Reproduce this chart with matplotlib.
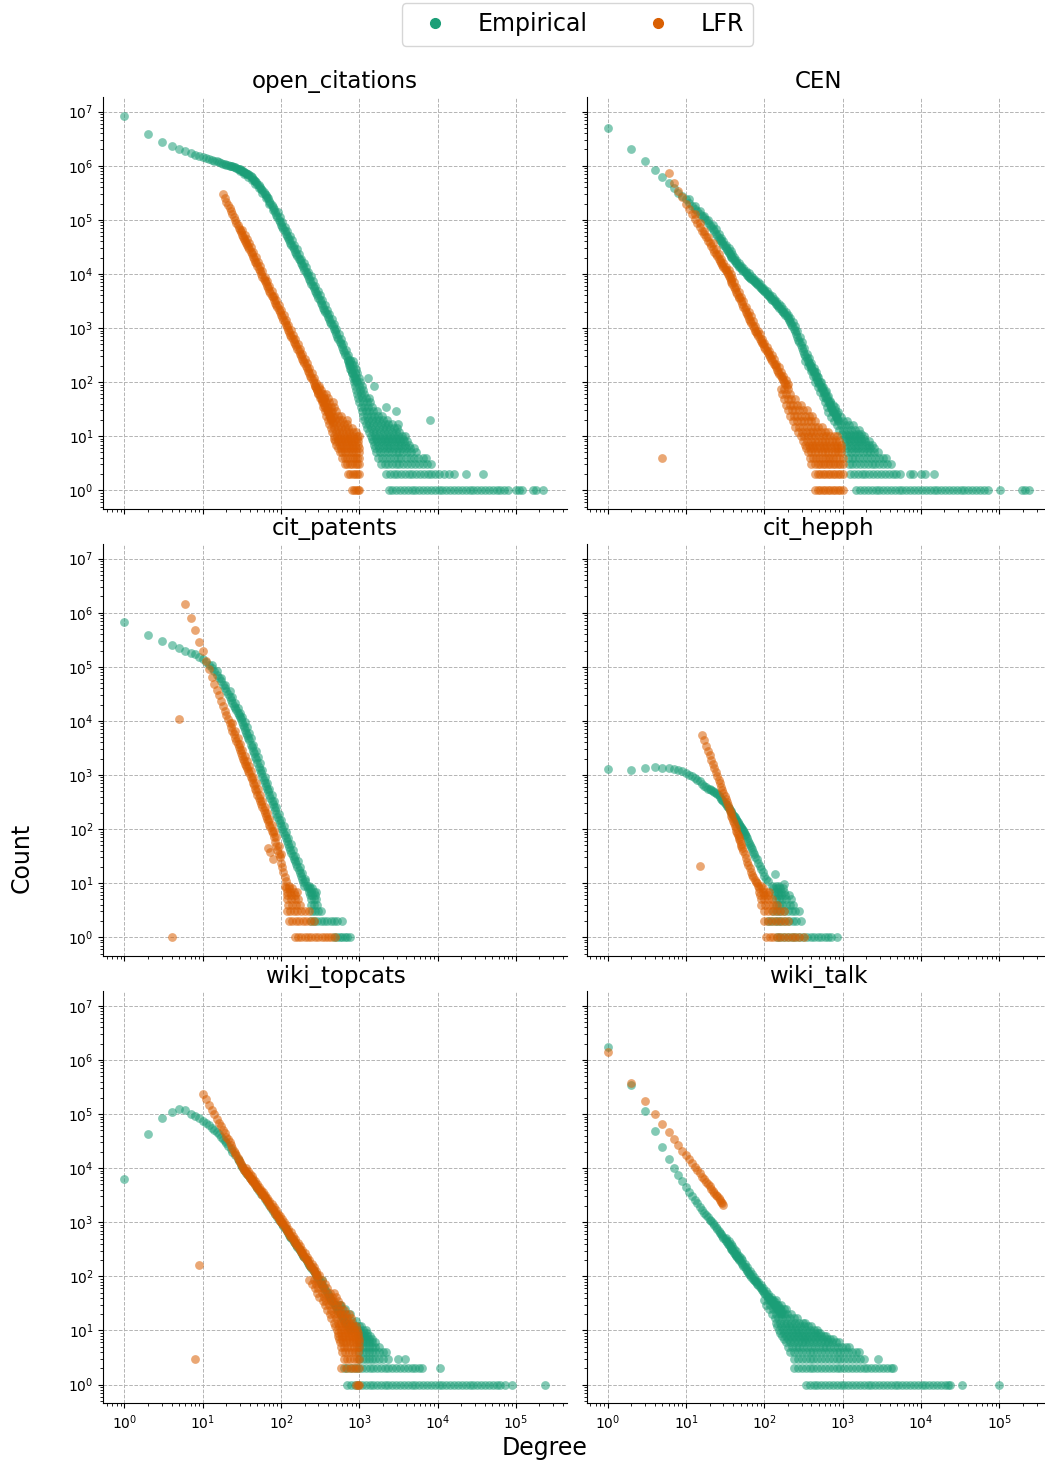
import numpy as np
import matplotlib
matplotlib.use("Agg")
import matplotlib.pyplot as plt
from matplotlib.lines import Line2D
from matplotlib.ticker import LogLocator, NullFormatter

# ------------------------------------------------------------------
# Degree distributions: (degree, count) readings along each curve, readings
# along the far edge of the thick bands, and integer-count rows
# {count: [degrees]} for the noisy tails.
# ------------------------------------------------------------------

# open_citations
oc_emp = [(1, 8.5e6), (2, 3.9e6), (3, 2.8e6), (4, 2.35e6), (5, 2.05e6), (6, 1.87e6), (7, 1.73e6),
          (8, 1.6e6), (9, 1.52e6), (10, 1.44e6), (11, 1.38e6), (12, 1.33e6), (13, 1.28e6),
          (14, 1.24e6), (15, 1.2e6), (16, 1.16e6), (17, 1.13e6), (18, 1.1e6), (19, 1.08e6),
          (20, 1.05e6), (21, 1.03e6), (22, 1.01e6), (23, 9.9e5), (24, 9.7e5), (25, 9.5e5),
          (26, 9.3e5), (27, 9.1e5), (28, 8.9e5), (29, 8.75e5), (30, 8.6e5), (31, 8.35e5),
          (32, 8.1e5), (33, 7.9e5), (34, 7.7e5), (35, 7.5e5), (36, 7.3e5), (37, 7.1e5),
          (38, 6.9e5), (39, 6.8e5), (41, 6.4e5), (42, 6.1e5), (44, 5.7e5), (45, 5.5e5),
          (47, 5.2e5), (48, 5.0e5), (50, 4.7e5), (52, 4.35e5), (54, 4.05e5), (56, 3.77e5),
          (58, 3.52e5), (60, 3.28e5), (62, 3.06e5), (64, 2.86e5), (66, 2.67e5), (68, 2.5e5),
          (71, 2.25e5), (73, 2.09e5), (76, 1.88e5), (78, 1.76e5), (81, 1.59e5), (84, 1.4e5),
          (87, 1.24e5), (90, 1.11e5), (93, 1.0e5), (96, 9.1e4), (100, 8.15e4), (103, 7.5e4),
          (107, 6.8e4), (111, 6.1e4), (115, 5.5e4), (119, 5.0e4), (123, 4.6e4), (127, 4.2e4),
          (132, 3.75e4), (136, 3.45e4), (141, 3.15e4), (146, 2.85e4), (151, 2.6e4),
          (156, 2.37e4), (162, 2.12e4), (168, 1.93e4), (173, 1.78e4), (180, 1.6e4),
          (186, 1.45e4), (192, 1.33e4), (199, 1.2e4), (206, 1.09e4), (213, 1.0e4), (221, 9.0e3),
          (229, 8.05e3), (237, 7.3e3), (245, 6.6e3), (253, 6.0e3), (262, 5.4e3), (272, 4.85e3),
          (281, 4.4e3), (291, 4.0e3), (301, 3.6e3), (312, 3.25e3), (323, 2.93e3), (334, 2.65e3),
          (346, 2.39e3), (358, 2.16e3), (370, 1.97e3), (383, 1.78e3), (397, 1.6e3),
          (411, 1.44e3), (425, 1.31e3), (440, 1.19e3), (455, 1.07e3), (471, 964), (488, 863),
          (505, 773), (523, 687), (541, 620), (560, 555), (580, 497), (600, 445), (621, 398),
          (643, 356), (665, 319), (689, 286), (713, 256), (738, 225), (764, 195), (790, 170),
          (818, 150), (847, 130), (876, 117), (907, 105)]
oc_emp_edge = [(30, 7.9e5), (34, 7.0e5), (38, 6.2e5), (42, 5.5e5), (47, 4.6e5), (52, 3.85e5),
               (58, 3.1e5), (64, 2.5e5), (71, 1.95e5), (78, 1.52e5), (91, 1.4e5), (97, 1.11e5),
               (104, 9.1e4), (111, 7.5e4), (120, 6.1e4), (129, 5.0e4), (137, 4.2e4),
               (147, 3.45e4), (158, 2.85e4), (168, 2.37e4), (181, 1.93e4), (194, 1.6e4),
               (207, 1.33e4), (222, 1.09e4), (239, 9.0e3), (256, 7.3e3), (273, 6.0e3),
               (294, 4.85e3), (314, 4.0e3), (337, 3.25e3), (361, 2.65e3), (387, 2.16e3),
               (414, 1.78e3), (444, 1.44e3), (475, 1.19e3), (509, 964), (545, 773), (584, 620),
               (626, 497), (671, 398), (718, 319), (770, 256)]
oc_emp_rows = {
    250: [710, 770, 830],
    210: [740, 800, 860],
    175: [770, 840, 900],
    145: [800, 870, 940],
    120: [830, 910, 990, 1280],
    100: [860, 940, 1030],
    85: [890, 980, 1080, 1550],
    72: [910, 1010, 1120],
    60: [940, 1040, 1160],
    50: [970, 1080, 1200, 1330],
    42: [1000, 1110, 1240, 1380],
    35: [1040, 1160, 1290, 1440, 2200],
    29: [1080, 1200, 1340, 1500, 1680, 2930],
    24: [1120, 1250, 1400, 1560, 1750, 1950],
    20: [1160, 1300, 1450, 1620, 1810, 2030, 2270, 8000],
    17: [1200, 1340, 1500, 1680, 1880, 2100, 2350, 2620, 3100],
    14: [1260, 1410, 1580, 1770, 1980, 2220, 2480, 2780, 3050],
    12: [1320, 1480, 1650, 1850, 2080, 2330, 2600, 2900, 3250],
    10: [1410, 1580, 1770, 2000, 2250, 2500, 2800, 3150, 3500, 3850],
    9: [1450, 1620, 1820, 2050, 2300, 2600, 2900, 3250, 3650],
    8: [1500, 1680, 1880, 2100, 2350, 2650, 2950, 3300, 3700, 4100],
    7: [1550, 1740, 1950, 2200, 2450, 2750, 3100, 3450, 3850, 4300],
    6: [1600, 1800, 2000, 2250, 2500, 2800, 3150, 3550, 4000, 4500, 5000],
    5: [1650, 1850, 2050, 2300, 2600, 2900, 3250, 3650, 4100, 4600, 5300],
    4: [1750, 1950, 2200, 2450, 2750, 3100, 3450, 3900, 4400, 5000, 5600, 6500, 7100],
    3: [1900, 2100, 2350, 2600, 2900, 3250, 3650, 4100, 4600, 5150, 5800, 6500, 7300, 8200],
    2: [2200, 2450, 2750, 3050, 3400, 3800, 4250, 4750, 5300, 5950, 6650, 7450, 8300, 9300,
        10400, 12000, 14000, 16000, 23000, 38500],
    1: [2400, 2650, 2950, 3300, 3700, 4150, 4650, 5200, 5800, 6500, 7300, 8200, 9200, 10300,
        11500, 12900, 14500, 16200, 18200, 20400, 22800, 25600, 28700, 32100, 36000, 40300,
        45200, 50600, 56700, 63500, 71000, 80000, 100000, 110000, 120000, 163000, 180000,
        220000],
}
oc_lfr = [(18, 3.0e5), (19, 2.54e5), (20, 2.18e5), (21, 1.89e5), (22, 1.64e5), (23, 1.43e5),
          (24, 1.26e5), (25, 1.12e5), (26, 9.9e4), (27, 8.9e4), (28, 8.0e4), (29, 7.2e4),
          (30, 6.5e4), (31, 5.9e4), (32, 5.3e4), (33, 4.84e4), (34, 4.46e4), (35, 4.07e4),
          (36, 3.75e4), (37, 3.45e4), (38, 3.18e4), (39, 2.94e4), (41, 2.53e4), (42, 2.36e4),
          (44, 2.06e4), (45, 1.92e4), (47, 1.68e4), (48, 1.58e4), (50, 1.4e4), (52, 1.24e4),
          (54, 1.11e4), (56, 9.95e3), (58, 8.97e3), (60, 8.1e3), (62, 7.35e3), (64, 6.67e3),
          (66, 6.05e3), (68, 5.53e3), (71, 4.89e3), (73, 4.5e3), (76, 3.97e3), (78, 3.68e3),
          (81, 3.3e3), (84, 2.95e3), (87, 2.64e3), (90, 2.4e3), (93, 2.18e3), (96, 1.98e3),
          (100, 1.75e3), (103, 1.6e3), (107, 1.43e3), (111, 1.28e3), (115, 1.15e3),
          (119, 1.03e3), (123, 938), (127, 851), (132, 757), (136, 692), (141, 624), (146, 562),
          (151, 507), (156, 460), (162, 409), (168, 369), (173, 337), (180, 300), (186, 270),
          (192, 247), (199, 221), (206, 200), (213, 181), (221, 162), (229, 145), (237, 131),
          (245, 119), (253, 108), (262, 97), (272, 86), (281, 78.5), (291, 70.8), (301, 63.8),
          (312, 57.5), (323, 51.9), (334, 46.8), (346, 42.2), (358, 38), (370, 34.5),
          (383, 31.1), (397, 27.9), (411, 25.1), (425, 22.8), (440, 20.6), (455, 18.5)]
oc_lfr_edge = [(32, 6.5e4), (35, 5.3e4), (37, 4.46e4), (39, 3.75e4), (41, 3.18e4), (44, 2.53e4),
               (48, 2.06e4), (51, 1.68e4), (54, 1.4e4), (58, 1.11e4), (63, 8.97e3), (67, 7.35e3),
               (71, 6.05e3), (77, 4.89e3), (82, 3.97e3), (87, 3.3e3), (94, 2.64e3),
               (100, 2.18e3), (108, 1.75e3), (116, 1.43e3), (124, 1.15e3), (133, 938),
               (143, 757), (152, 624), (163, 507), (175, 409), (187, 337), (201, 270),
               (215, 221), (230, 181), (247, 145), (265, 119), (283, 97), (303, 78.5),
               (325, 63.8), (349, 51.9), (374, 42.2), (400, 34.5), (429, 27.9), (459, 22.8)]
oc_lfr_rows = {
    86: [275, 310],
    72: [290, 325],
    60: [300, 340, 380],
    50: [315, 355, 400],
    42: [330, 370, 410, 460],
    35: [345, 385, 430, 480],
    29: [360, 400, 450, 510],
    24: [380, 420, 470, 530, 590],
    20: [395, 440, 490, 550, 610, 690],
    17: [410, 460, 510, 570, 630, 700],
    14: [430, 480, 530, 590, 650, 720, 800],
    12: [450, 500, 550, 610, 670, 740, 820, 900],
    10: [470, 520, 570, 630, 690, 760, 840, 930, 1000],
    9: [480, 530, 580, 640, 700, 770, 850, 940],
    8: [490, 540, 590, 650, 710, 780, 860, 950],
    7: [510, 560, 610, 670, 730, 800, 880, 960],
    6: [530, 580, 630, 690, 750, 820, 900, 1000],
    5: [560, 610, 660, 720, 780, 840, 910, 1000],
    4: [600, 650, 700, 760, 820, 880, 940, 1000],
    3: [650, 700, 750, 810, 870, 930, 1000],
    2: [720, 770, 820, 880, 940, 1000],
    1: [800, 850, 900, 950, 1000],
}

# CEN
cen_emp = [(1, 4.9e6), (2, 2.05e6), (3, 1.2e6), (4, 8.3e5), (5, 6.2e5), (6, 4.8e5), (7, 3.9e5),
           (8, 3.2e5), (9, 2.75e5), (10, 2.4e5), (11, 2.08e5), (12, 1.82e5), (13, 1.61e5),
           (14, 1.44e5), (15, 1.3e5), (16, 1.18e5), (17, 1.08e5), (18, 9.75e4), (19, 8.8e4),
           (20, 8.1e4), (21, 7.4e4), (22, 6.7e4), (23, 6.1e4), (24, 5.55e4), (25, 5.1e4),
           (26, 4.7e4), (27, 4.3e4), (28, 4.0e4), (29, 3.7e4), (30, 3.45e4), (31, 3.22e4),
           (32, 3.0e4), (33, 2.8e4), (34, 2.64e4), (35, 2.47e4), (36, 2.33e4), (37, 2.19e4),
           (38, 2.07e4), (39, 1.98e4), (41, 1.81e4), (42, 1.73e4), (44, 1.59e4), (45, 1.52e4),
           (47, 1.42e4), (48, 1.37e4), (50, 1.28e4), (52, 1.2e4), (54, 1.13e4), (56, 1.07e4),
           (58, 1.02e4), (60, 9.75e3), (62, 9.3e3), (64, 8.9e3), (66, 8.55e3), (68, 8.2e3),
           (71, 7.8e3), (73, 7.5e3), (76, 7.1e3), (78, 6.85e3), (81, 6.5e3), (84, 6.2e3),
           (87, 5.85e3), (90, 5.6e3), (93, 5.35e3), (96, 5.1e3), (100, 4.8e3), (103, 4.6e3),
           (107, 4.35e3), (111, 4.1e3), (115, 3.9e3), (119, 3.7e3), (123, 3.5e3), (127, 3.33e3),
           (132, 3.12e3), (136, 2.97e3), (141, 2.81e3), (146, 2.66e3), (151, 2.51e3),
           (156, 2.38e3), (162, 2.23e3), (168, 2.1e3), (173, 2.0e3), (180, 1.87e3),
           (186, 1.74e3), (192, 1.64e3), (199, 1.52e3), (206, 1.41e3), (213, 1.32e3),
           (221, 1.21e3), (229, 1.08e3), (237, 962), (245, 865), (253, 779), (262, 697),
           (272, 610), (281, 546), (291, 484), (301, 430), (312, 381), (323, 338), (334, 305),
           (346, 275), (358, 249), (370, 227), (383, 205), (397, 185), (411, 166), (425, 151),
           (440, 136), (455, 123), (471, 111), (488, 100), (505, 91), (523, 82), (541, 75),
           (560, 68), (580, 62), (600, 56), (621, 50), (643, 45), (665, 41), (689, 37),
           (713, 33.6), (738, 30.9), (764, 28.4), (790, 26.1), (818, 24), (847, 22.1),
           (876, 20.3)]
cen_emp_edge = [(11, 2.4e5), (13, 1.82e5), (15, 1.44e5), (17, 1.18e5), (19, 9.75e4),
                (22, 8.1e4), (24, 6.7e4), (26, 5.55e4), (28, 4.7e4), (30, 4.0e4), (32, 3.45e4),
                (35, 3.0e4), (37, 2.64e4), (39, 2.33e4), (41, 2.07e4), (44, 1.81e4),
                (48, 1.59e4), (51, 1.42e4), (54, 1.28e4), (58, 1.13e4), (63, 1.02e4),
                (67, 9.3e3), (71, 8.55e3), (77, 7.8e3), (82, 7.1e3), (87, 6.5e3), (94, 5.85e3),
                (100, 5.35e3), (108, 4.8e3), (116, 4.35e3), (124, 3.9e3), (133, 3.5e3),
                (143, 3.12e3), (152, 2.81e3), (163, 2.51e3), (175, 2.23e3), (187, 2.0e3),
                (201, 1.74e3), (215, 1.52e3), (230, 1.32e3), (247, 1.08e3), (265, 865),
                (283, 697), (303, 546), (325, 430), (349, 338), (374, 275), (400, 227),
                (429, 185), (459, 151), (491, 123), (527, 100), (565, 82), (605, 68), (648, 56),
                (694, 45), (744, 37), (797, 30.9), (853, 26.1)]
cen_emp_rows = {
    250: [330],
    200: [360, 390],
    160: [390, 430],
    130: [420, 470],
    100: [450, 510],
    80: [480, 550],
    65: [520, 600],
    52: [560, 640],
    42: [600, 690],
    34: [630, 720, 800],
    28: [660, 760, 870],
    23: [720, 820, 940],
    19: [780, 880, 1000, 1130],
    16: [840, 940, 1060, 1200, 1350],
    13: [900, 1010, 1130, 1270, 1430, 1600],
    11: [980, 1100, 1230, 1380, 1550, 1740],
    10: [1070, 1200, 1340, 1500, 1680, 1860],
    9: [1080, 1210, 1360, 1520, 1710, 1900],
    8: [1100, 1230, 1380, 1550, 1740, 1950, 2150],
    7: [1110, 1250, 1400, 1570, 1760, 1970, 2200, 2400],
    6: [1130, 1270, 1420, 1590, 1780, 2000, 2240, 2500],
    5: [1140, 1280, 1440, 1610, 1800, 2020, 2260, 2530, 2830],
    4: [1160, 1300, 1460, 1640, 1840, 2060, 2310, 2590, 2900, 3250, 3600],
    3: [1190, 1330, 1490, 1670, 1870, 2100, 2350, 2630, 2950, 3300, 3700, 4100],
    2: [1240, 1390, 1560, 1750, 1960, 2200, 2460, 2760, 3090, 3460, 3880, 4350, 4870, 5450,
        7200, 7900, 10000, 11200, 14700],
    1: [1500, 1680, 1880, 2100, 2350, 2650, 2950, 3300, 3700, 4150, 4650, 5200, 5800, 6500,
        7300, 8200, 9200, 10300, 11500, 12900, 14500, 16200, 18200, 20400, 22800, 25600,
        28700, 32100, 36000, 40300, 45200, 50600, 56700, 63500, 71000, 103000, 195000,
        215000, 242000],
}
cen_lfr = [(5, 4), (6, 7.2e5), (7, 4.8e5), (8, 3.4e5), (9, 2.6e5), (10, 2.0e5), (11, 1.59e5),
           (12, 1.28e5), (13, 1.05e5), (14, 8.8e4), (15, 7.4e4), (16, 6.3e4), (17, 5.46e4),
           (18, 4.74e4), (19, 4.14e4), (20, 3.66e4), (21, 3.25e4), (22, 2.9e4), (23, 2.59e4),
           (24, 2.34e4), (25, 2.12e4), (26, 1.92e4), (27, 1.76e4), (28, 1.61e4), (29, 1.48e4),
           (30, 1.36e4), (31, 1.25e4), (32, 1.16e4), (33, 1.07e4), (34, 1.0e4), (35, 9.15e3),
           (36, 8.4e3), (37, 7.74e3), (38, 7.13e3), (39, 6.6e3), (41, 5.67e3), (42, 5.3e3),
           (44, 4.61e3), (45, 4.3e3), (47, 3.78e3), (48, 3.55e3), (50, 3.13e3), (52, 2.79e3),
           (54, 2.49e3), (56, 2.23e3), (58, 2.01e3), (60, 1.82e3), (62, 1.65e3), (64, 1.5e3),
           (66, 1.36e3), (68, 1.24e3), (71, 1.1e3), (73, 1.0e3), (76, 900), (78, 844),
           (81, 768), (84, 699), (87, 637), (90, 586), (93, 540), (96, 498), (100, 448),
           (103, 415), (107, 378), (111, 344), (115, 313), (119, 286), (123, 264), (127, 243),
           (132, 220), (136, 204), (141, 187), (146, 171), (151, 156), (156, 144), (162, 130),
           (168, 119), (173, 111), (180, 100), (186, 92), (192, 85)]
cen_lfr_edge = [(13, 1.28e5), (15, 8.8e4), (17, 6.3e4), (19, 4.74e4), (22, 3.66e4),
                (24, 2.9e4), (26, 2.34e4), (28, 1.92e4), (30, 1.61e4), (32, 1.36e4),
                (35, 1.16e4), (37, 1.0e4), (39, 8.4e3), (41, 7.13e3), (44, 5.67e3),
                (48, 4.61e3), (51, 3.78e3), (54, 3.13e3), (58, 2.49e3), (63, 2.01e3),
                (67, 1.65e3), (71, 1.36e3), (77, 1.1e3), (82, 900), (87, 768), (94, 637),
                (100, 540), (108, 448), (116, 378), (124, 313), (133, 264), (143, 220),
                (152, 187), (163, 156), (175, 130), (187, 111), (201, 92)]
cen_lfr_rows = {
    75: [165, 180, 200],
    60: [170, 190, 210],
    48: [180, 200, 220, 245],
    38: [190, 210, 235, 260, 290],
    30: [200, 225, 250, 280, 310, 350],
    24: [215, 240, 265, 295, 330, 370, 410],
    19: [230, 260, 290, 320, 360, 400, 450],
    15: [250, 280, 310, 350, 390, 440, 490, 550],
    12: [270, 300, 340, 380, 420, 470, 530, 590, 650],
    10: [290, 320, 360, 400, 450, 500, 560, 620, 690, 770, 860],
    8: [310, 350, 390, 440, 490, 540, 600, 670, 740, 820, 900],
    7: [330, 370, 410, 450, 500, 560, 620, 690, 770, 850, 950],
    6: [340, 380, 420, 470, 520, 580, 640, 710, 790, 870, 960],
    5: [360, 400, 440, 490, 540, 600, 660, 730, 800, 880, 960],
    4: [380, 420, 460, 500, 550, 600, 650, 700, 760, 830, 900, 1000],
    3: [400, 440, 480, 520, 560, 600, 650, 700, 750, 810, 870, 930, 1000],
    2: [450, 480, 520, 560, 600, 650, 700, 750, 810, 870, 930, 1000],
    1: [450, 480, 520, 560, 600, 650, 700, 750, 810, 870, 930, 1000],
}

# cit_patents
cp_emp = [(1, 6.7e5), (2, 3.9e5), (3, 2.95e5), (4, 2.5e5), (5, 2.2e5), (6, 2.0e5), (7, 1.8e5),
          (8, 1.7e5), (9, 1.55e5), (10, 1.38e5), (11, 1.23e5), (12, 1.1e5), (13, 9.6e4),
          (14, 8.4e4), (15, 7.2e4), (16, 6.3e4), (17, 5.4e4), (18, 4.65e4), (19, 4.06e4),
          (20, 3.58e4), (21, 3.13e4), (22, 2.75e4), (23, 2.42e4), (24, 2.15e4), (25, 1.92e4),
          (26, 1.72e4), (27, 1.56e4), (28, 1.41e4), (29, 1.28e4), (30, 1.17e4), (31, 1.07e4),
          (32, 9.6e3), (33, 8.5e3), (34, 7.6e3), (35, 6.8e3), (36, 6.1e3), (37, 5.5e3),
          (38, 4.9e3), (39, 4.43e3), (41, 3.63e3), (42, 3.32e3), (44, 2.77e3), (45, 2.53e3),
          (47, 2.13e3), (48, 1.96e3), (50, 1.67e3), (52, 1.43e3), (54, 1.24e3), (56, 1.07e3),
          (58, 929), (60, 820), (62, 724), (64, 638), (66, 562), (68, 501), (71, 426), (73, 383),
          (76, 325), (78, 295), (81, 255), (84, 221), (87, 192), (90, 169), (93, 149), (96, 131),
          (100, 112), (103, 100), (107, 87.5), (111, 76.6), (115, 67.1), (119, 59.3),
          (123, 52.7), (127, 46.9), (132, 40.7), (136, 36.6), (141, 32.3), (146, 28.5),
          (151, 25.2), (156, 22.4), (162, 19.5), (168, 17.2), (173, 15.4), (180, 13.4),
          (186, 11.8), (192, 10.6), (205, 11)]
cp_emp_edge = [(13, 1.1e5), (15, 8.4e4), (17, 6.3e4), (19, 4.65e4), (22, 3.58e4), (24, 2.75e4),
               (26, 2.15e4), (28, 1.72e4), (30, 1.41e4), (32, 1.17e4), (35, 9.6e3), (37, 7.6e3),
               (39, 6.1e3), (41, 4.9e3), (44, 3.63e3), (48, 2.77e3), (51, 2.13e3), (54, 1.67e3),
               (58, 1.24e3), (63, 929), (67, 724), (71, 562), (77, 426), (82, 325), (87, 255),
               (94, 192), (100, 149), (108, 112), (116, 87.5), (124, 67.1), (133, 52.7),
               (143, 40.7), (152, 32.3), (163, 25.2), (175, 19.5), (187, 15.4), (201, 11.8)]
cp_emp_rows = {
    9: [199, 215, 225],
    8: [220, 235, 250],
    7: [230, 245, 265, 280],
    6: [235, 250, 270],
    5: [240, 260, 280],
    4: [245, 265, 290],
    3: [250, 270, 300, 320],
    2: [240, 265, 290, 320, 350, 390, 430, 470, 520, 600],
    1: [480, 520, 560, 600, 650, 700, 760],
}
cp_lfr = [(4, 1), (5, 1.07e4), (6, 1.48e6), (7, 8.1e5), (8, 4.7e5), (9, 2.9e5), (10, 1.95e5),
          (11, 1.3e5), (12, 9.1e4), (13, 6.6e4), (14, 4.8e4), (15, 3.7e4), (16, 2.95e4),
          (17, 2.35e4), (18, 1.9e4), (19, 1.55e4), (20, 1.29e4), (21, 1.08e4), (22, 9.1e3),
          (23, 7.65e3), (24, 6.6e3), (25, 5.64e3), (26, 4.88e3), (27, 4.26e3), (28, 3.72e3),
          (29, 3.27e3), (30, 2.88e3), (31, 2.55e3), (32, 2.26e3), (33, 2.01e3), (34, 1.82e3),
          (35, 1.63e3), (36, 1.47e3), (37, 1.32e3), (38, 1.2e3), (39, 1.09e3), (41, 903),
          (42, 830), (44, 700), (45, 643), (47, 546), (48, 506), (50, 434), (52, 376),
          (54, 327), (56, 286), (58, 252), (60, 221), (62, 196), (64, 175), (66, 155),
          (68, 139), (71, 119), (73, 107), (76, 92), (78, 84), (81, 70), (84, 58), (87, 48),
          (90, 41), (93, 35), (96, 30), (100, 24), (103, 20), (107, 16), (111, 13), (115, 11),
          (68, 45), (72, 38), (80, 28)]
cp_lfr_edge = [(24, 9.1e3), (26, 6.6e3), (28, 4.88e3), (30, 3.72e3), (32, 2.88e3), (35, 2.26e3),
               (37, 1.82e3), (39, 1.47e3), (41, 1.2e3), (44, 903), (48, 700), (51, 546),
               (54, 434), (58, 327), (63, 252), (67, 196), (71, 155), (77, 119), (82, 92),
               (87, 70), (94, 48), (100, 35)]
cp_lfr_rows = {
    9: [112, 125],
    8: [115, 128, 140],
    7: [118, 130, 145, 160],
    6: [120, 135, 150],
    5: [120, 135, 150, 165],
    4: [122, 138, 155, 175],
    3: [118, 130, 145, 160, 180, 200, 225],
    2: [125, 140, 155, 170, 190, 210, 235, 260],
    1: [150, 165, 180, 200, 220, 245, 270, 300, 330, 365, 400, 440, 490],
}

# cit_hepph
ch_emp = [(1, 1.3e3), (2, 1.25e3), (3, 1.34e3), (4, 1.38e3), (5, 1.32e3), (6, 1.32e3),
          (7, 1.3e3), (8, 1.25e3), (9, 1.18e3), (10, 1.08e3), (11, 1.0e3), (12, 940),
          (13, 870), (14, 810), (15, 760), (16, 690), (17, 630), (18, 600), (19, 560),
          (20, 550), (21, 525), (22, 500), (23, 485), (24, 470), (25, 445), (26, 420),
          (27, 390), (28, 360), (29, 345), (30, 330), (31, 308), (32, 288), (33, 270),
          (34, 255), (35, 241), (36, 228), (37, 215), (38, 204), (39, 193), (40, 183),
          (41, 174), (42, 164), (43, 155), (44, 147), (45, 140), (46, 133), (47, 126),
          (48, 120), (49, 115), (50, 111), (51, 106), (52, 102), (53, 98), (54, 93), (55, 88),
          (56, 82), (57, 77), (58, 73), (60, 67), (62, 60), (64, 55), (66, 50), (68, 46),
          (70, 42), (72, 38), (74, 35), (77, 31), (80, 28), (84, 24), (88, 21), (92, 18),
          (96, 16), (100, 13.5), (105, 12), (110, 11), (135, 15), (176, 9.5)]
ch_emp_edge = []
ch_emp_rows = {
    9: [125, 140, 155],
    8: [130, 145, 160, 175],
    7: [135, 150, 165, 180],
    6: [135, 150, 165, 185, 207],
    5: [140, 155, 170, 190, 218],
    4: [140, 155, 170, 190, 215, 235],
    3: [130, 145, 160, 180, 200, 225, 250, 280],
    2: [110, 122, 135, 150, 165, 185, 205, 230, 255, 290],
    1: [145, 160, 180, 200, 225, 250, 280, 310, 350, 390, 430, 480, 530, 590, 650, 720, 850],
}
ch_lfr = [(15, 21), (16, 5.4e3), (17, 4.4e3), (18, 3.5e3), (19, 2.8e3), (20, 2.3e3),
          (21, 1.9e3), (22, 1.58e3), (23, 1.34e3), (24, 1.13e3), (25, 970), (26, 820),
          (27, 710), (28, 610), (29, 530), (30, 465), (31, 405), (32, 357), (33, 315),
          (34, 280), (35, 248), (36, 220), (37, 197), (38, 176), (39, 158), (40, 142),
          (41, 128), (42, 115), (43, 104), (44, 94), (45, 86), (46, 79), (47, 72), (48, 65),
          (49, 59), (50, 54), (51, 49), (52, 45), (54, 39), (56, 34), (58, 29), (60, 25),
          (62, 22), (65, 19), (68, 16), (70, 14), (72, 13), (75, 11.5), (78, 10.5), (80, 10)]
ch_lfr_edge = []
ch_lfr_rows = {
    9: [82, 90],
    8: [85, 95],
    7: [85, 95, 105, 115],
    6: [88, 98, 110],
    5: [90, 100, 112, 125],
    4: [92, 103, 115, 130, 145],
    3: [100, 112, 125, 140, 158, 178],
    2: [100, 112, 125, 140, 158, 178, 200],
    1: [105, 118, 130, 145, 160, 180, 200, 225, 250, 280, 320],
}

# wiki_topcats
wt_emp = [(1, 6.3e3), (2, 4.3e4), (3, 8.5e4), (4, 1.1e5), (5, 1.24e5), (6, 1.18e5),
          (7, 1.02e5), (8, 9.4e4), (9, 8.5e4), (10, 7.6e4), (11, 6.9e4), (12, 6.2e4),
          (13, 5.6e4), (14, 5.1e4), (15, 4.6e4), (16, 4.2e4), (17, 3.8e4), (18, 3.5e4),
          (19, 3.2e4), (20, 2.9e4), (21, 2.6e4), (23, 2.3e4), (24, 2.0e4), (26, 1.75e4),
          (28, 1.5e4), (29, 1.35e4), (31, 1.15e4), (32, 1.05e4), (34, 9.3e3), (36, 8.3e3),
          (38, 7.4e3), (40, 6.7e3), (42, 6.1e3), (45, 5.3e3), (48, 4.7e3), (50, 4.3e3),
          (53, 3.8e3), (56, 3.4e3), (60, 3.0e3), (63, 2.7e3), (67, 2.4e3), (70, 2.1e3),
          (75, 1.85e3), (80, 1.6e3), (85, 1.42e3), (90, 1.25e3), (95, 1.12e3), (100, 1.0e3),
          (103, 937), (107, 865), (111, 798), (115, 736), (119, 682), (123, 637), (127, 593),
          (132, 545), (136, 511), (141, 473), (146, 439), (151, 407), (156, 379), (162, 348),
          (168, 323), (173, 303), (180, 278), (186, 258), (192, 242), (199, 223), (206, 207),
          (213, 193), (221, 178), (229, 164), (237, 152), (245, 142), (253, 132), (262, 123),
          (272, 113), (281, 105), (291, 98), (301, 90), (312, 83), (323, 76), (334, 70),
          (335, 85), (346, 65), (358, 60), (370, 55), (383, 51), (397, 47), (411, 43), (425, 40),
          (440, 37), (455, 34), (471, 31.4), (488, 29), (505, 26.7), (523, 24.5), (541, 22.7),
          (560, 21), (580, 19.3), (600, 17.8), (621, 16.4), (643, 15.1), (665, 14),
          (689, 12.9), (713, 11.9), (738, 10.9), (764, 10.1)]
wt_emp_edge = []
wt_emp_rows = {
    30: [500, 560, 575],
    25: [540, 600, 650],
    20: [600, 680, 770],
    15: [700, 800, 900],
    12: [800, 900, 1000, 1050],
    10: [900, 1000, 1100, 1200],
    9: [950, 1050, 1150, 1250],
    8: [950, 1050, 1150, 1250, 1350],
    7: [1000, 1100, 1200, 1320, 1450],
    6: [1000, 1100, 1200, 1320, 1450, 1600],
    5: [1000, 1100, 1200, 1320, 1450, 1600, 1800],
    4: [1000, 1100, 1200, 1320, 1450, 1600, 1800, 2000, 2200],
    3: [1000, 1100, 1200, 1320, 1450, 1600, 1800, 2000, 2300, 3100, 3850],
    2: [640, 700, 780, 870, 970, 1080, 1200, 1350, 1500, 1680, 1880, 2100, 2350, 2650,
        2950, 3300, 3700, 4150, 4650, 5200, 5800, 6400, 10700],
    1: [700, 780, 870, 970, 1080, 1200, 1350, 1500, 1680, 1880, 2100, 2350, 2650, 2950,
        3300, 3700, 4150, 4650, 5200, 5800, 6500, 7300, 8200, 9200, 10300, 11500, 12900,
        14500, 16200, 18200, 20400, 22800, 25600, 28700, 32100, 36000, 40300, 45200, 50600,
        56700, 63500, 72000, 88000, 238000],
}
wt_lfr = [(8, 3), (9, 162), (10, 2.4e5), (11, 1.86e5), (12, 1.48e5), (13, 1.2e5), (14, 9.9e4),
          (15, 8.2e4), (16, 6.9e4), (17, 5.9e4), (18, 5.1e4), (19, 4.4e4), (20, 3.8e4),
          (21, 3.4e4), (22, 3.0e4), (23, 2.65e4), (24, 2.35e4), (25, 2.1e4), (26, 1.9e4),
          (27, 1.72e4), (28, 1.57e4), (29, 1.43e4), (30, 1.31e4), (31, 1.2e4), (32, 1.1e4),
          (33, 1.0e4), (34, 9.4e3), (35, 8.9e3), (36, 8.4e3), (37, 7.9e3), (38, 7.5e3),
          (39, 7.1e3), (40, 6.7e3), (41, 6.4e3), (42, 6.1e3), (43, 5.8e3), (44, 5.5e3),
          (46, 5.1e3), (47, 4.8e3), (49, 4.5e3), (50, 4.3e3), (52, 4.0e3), (54, 3.75e3),
          (55, 3.6e3), (57, 3.35e3), (58, 3.2e3), (60, 3.0e3), (62, 2.85e3), (64, 2.65e3),
          (66, 2.5e3), (68, 2.35e3), (70, 2.2e3), (73, 2.0e3), (75, 1.9e3), (78, 1.75e3),
          (80, 1.65e3), (83, 1.53e3), (85, 1.45e3), (88, 1.35e3), (90, 1.28e3), (93, 1.2e3),
          (95, 1.14e3), (98, 1.07e3), (100, 1.03e3), (103, 960), (107, 890), (111, 820),
          (115, 757), (119, 702), (123, 655), (127, 610), (132, 560), (136, 526), (141, 487),
          (146, 452), (151, 419), (156, 390), (162, 358), (168, 332), (173, 312), (180, 286),
          (186, 266), (192, 249), (199, 230), (206, 213), (213, 199), (221, 183), (229, 169),
          (237, 157), (245, 146), (253, 136), (262, 127), (272, 116), (281, 108), (285, 104)]
wt_lfr_edge = [(36, 1.0e4), (38, 8.9e3), (40, 7.9e3), (42, 7.1e3), (44, 6.4e3), (46, 5.8e3),
               (50, 5.1e3), (53, 4.5e3), (56, 4.0e3), (59, 3.6e3), (63, 3.2e3), (67, 2.85e3),
               (71, 2.5e3), (76, 2.2e3), (81, 1.9e3), (86, 1.65e3), (92, 1.45e3), (97, 1.28e3),
               (103, 1.14e3), (108, 1.03e3), (116, 890), (124, 757), (133, 655), (143, 560),
               (152, 487), (163, 419), (175, 358), (187, 312), (201, 266), (215, 230),
               (230, 199), (247, 169), (265, 146), (283, 127), (303, 108)]
wt_lfr_rows = {
    86: [230, 260, 290, 330],
    72: [250, 280, 320, 360],
    60: [270, 300, 340, 390],
    50: [290, 330, 370, 420, 470],
    42: [310, 350, 400, 450, 500],
    35: [340, 380, 430, 480, 540],
    29: [360, 410, 460, 520, 580],
    24: [390, 440, 500, 560, 630],
    20: [420, 470, 530, 590, 660, 740],
    17: [440, 500, 560, 630, 700, 780],
    14: [470, 530, 590, 660, 730, 810],
    12: [490, 550, 610, 680, 750, 830, 920],
    10: [520, 580, 640, 700, 770, 850, 940],
    9: [530, 590, 650, 720, 790, 870, 960],
    8: [540, 600, 660, 730, 800, 880, 970],
    7: [550, 610, 670, 740, 820, 900, 990],
    6: [560, 620, 680, 750, 830, 910, 1000],
    5: [580, 640, 700, 770, 850, 930, 1000],
    4: [600, 660, 730, 800, 880, 960],
    3: [640, 700, 770, 850, 930, 1000],
    2: [580, 680, 750, 820, 900, 1000],
    1: [900, 950, 1000],
}

# wiki_talk
wk_emp = [(1, 1.75e6), (2, 3.5e5), (3, 1.13e5), (4, 4.8e4), (5, 2.5e4), (6, 1.48e4),
          (7, 1.0e4), (8, 7.5e3), (9, 5.8e3), (10, 4.5e3), (11, 3.6e3), (12, 3.0e3),
          (13, 2.6e3), (14, 2.25e3), (15, 1.95e3), (16, 1.7e3), (17, 1.5e3), (18, 1.38e3),
          (19, 1.24e3), (20, 1.1e3), (21, 1.07e3), (22, 972), (23, 885), (24, 814), (25, 748),
          (26, 692), (27, 641), (28, 596), (29, 555), (30, 517), (31, 484), (32, 454),
          (33, 425), (34, 402), (35, 378), (36, 357), (37, 338), (38, 320), (39, 303),
          (40, 288), (41, 274), (42, 261), (43, 249), (44, 238), (45, 227), (46, 217),
          (47, 208), (48, 200), (50, 183), (52, 169), (54, 157), (56, 146), (58, 136),
          (60, 127), (62, 119), (64, 111), (66, 104), (68, 98), (71, 91), (73, 87), (76, 81),
          (78, 77), (81, 73), (84, 68), (87, 64), (90, 60), (93, 57), (96, 54), (100, 50),
          (103, 47), (107, 44), (111, 42), (115, 39), (119, 37), (123, 35), (127, 33),
          (132, 31), (136, 29), (141, 27), (146, 26), (151, 24), (156, 23), (162, 21),
          (168, 20)]
wk_emp_edge = [(32, 517), (35, 454), (37, 402), (39, 357), (41, 320), (43, 288), (45, 261),
               (48, 238), (50, 217), (52, 200), (56, 169), (60, 146), (65, 127), (69, 111),
               (73, 98), (79, 87), (84, 77), (91, 68), (97, 60), (104, 54), (111, 47),
               (120, 42), (129, 37), (137, 33), (147, 29), (158, 26), (168, 23)]
wk_emp_rows = {
    36: [100, 112, 125, 140],
    30: [105, 118, 132, 148, 165],
    25: [115, 128, 143, 160, 178, 190],
    20: [125, 140, 157, 176, 197, 220],
    17: [135, 151, 169, 189, 212, 237, 260],
    14: [140, 157, 176, 197, 221, 247, 277, 310, 330],
    12: [145, 162, 182, 204, 228, 256, 286, 320, 360, 390],
    10: [155, 174, 195, 218, 244, 273, 306, 343, 384, 430, 470],
    9: [160, 179, 200, 224, 251, 281, 315, 353, 395, 443, 490, 520],
    8: [170, 190, 213, 239, 267, 299, 335, 375, 420, 470, 527, 580, 620],
    7: [180, 202, 226, 253, 283, 317, 355, 398, 446, 500, 560, 627, 700, 750],
    6: [190, 213, 238, 267, 299, 335, 375, 420, 470, 527, 590, 660, 740, 830, 900],
    5: [200, 224, 251, 281, 315, 353, 395, 443, 496, 555, 622, 697, 780, 874, 980, 1100,
        1200],
    4: [215, 241, 270, 302, 338, 379, 424, 475, 532, 596, 668, 748, 838, 938, 1050, 1180,
        1320, 1500, 1600],
    3: [240, 269, 301, 337, 378, 423, 474, 531, 595, 666, 746, 836, 936, 1050, 1170, 1310,
        1470, 1650, 1900, 2800],
    2: [240, 269, 301, 337, 378, 423, 474, 531, 595, 666, 746, 836, 936, 1050, 1170, 1310,
        1470, 1650, 1850, 2070, 2320, 2600, 2910, 3260, 3650, 4090, 4400],
    1: [340, 380, 426, 477, 534, 598, 670, 750, 840, 941, 1050, 1180, 1320, 1480, 1660,
        1860, 2080, 2330, 2610, 2920, 3270, 3670, 4110, 4600, 5150, 5770, 6460, 7240, 8110,
        9080, 10200, 11400, 12800, 14300, 16000, 17900, 20100, 22500, 23500, 33000, 100000],
}
wk_lfr = [(1, 1.4e6), (2, 3.8e5), (3, 1.75e5), (4, 1.0e5), (5, 6.6e4), (6, 4.6e4), (7, 3.5e4),
          (8, 2.7e4), (9, 2.1e4), (10, 1.75e4), (11, 1.46e4), (12, 1.23e4), (13, 1.05e4),
          (14, 9.1e3), (15, 8.0e3), (16, 7.0e3), (17, 6.3e3), (18, 5.6e3), (19, 5.0e3),
          (20, 4.6e3), (21, 4.2e3), (22, 3.8e3), (23, 3.5e3), (24, 3.2e3), (25, 3.0e3),
          (26, 2.77e3), (27, 2.58e3), (28, 2.4e3), (29, 2.25e3), (30, 2.1e3)]
wk_lfr_edge = []
wk_lfr_rows = {}

titles = ["open_citations", "CEN", "cit_patents", "cit_hepph", "wiki_topcats", "wiki_talk"]
series = [
    (oc_emp + oc_emp_edge, oc_emp_rows, oc_lfr + oc_lfr_edge, oc_lfr_rows),
    (cen_emp + cen_emp_edge, cen_emp_rows, cen_lfr + cen_lfr_edge, cen_lfr_rows),
    (cp_emp + cp_emp_edge, cp_emp_rows, cp_lfr + cp_lfr_edge, cp_lfr_rows),
    (ch_emp + ch_emp_edge, ch_emp_rows, ch_lfr + ch_lfr_edge, ch_lfr_rows),
    (wt_emp + wt_emp_edge, wt_emp_rows, wt_lfr + wt_lfr_edge, wt_lfr_rows),
    (wk_emp + wk_emp_edge, wk_emp_rows, wk_lfr + wk_lfr_edge, wk_lfr_rows),
]

EMP_COLOR = "#1b9e77"
LFR_COLOR = "#d95f02"


def collect(pairs, rows):
    deg = [d for d, _ in pairs]
    cnt = [c for _, c in pairs]
    for c, ds in rows.items():
        deg += ds
        cnt += [c] * len(ds)
    return np.array(deg, dtype=float), np.array(cnt, dtype=float)


# ------------------------------------------------------------------
# FIGURE
# ------------------------------------------------------------------
fig = plt.figure(figsize=(10.45, 14.64), dpi=100)

col_x = [0.0989, 0.5614]
row_y = [0.6523, 0.3470, 0.0415]
w, h = 0.4437, 0.2816

axes = []
for i in range(6):
    r, c = divmod(i, 2)
    kw = {}
    if axes:
        kw = dict(sharex=axes[0], sharey=axes[0])
    ax = fig.add_axes([col_x[c], row_y[r], w, h], **kw)
    axes.append(ax)

for i, (ax, name, (emp, emp_rows, lfr, lfr_rows)) in enumerate(zip(axes, titles, series)):
    x, y = collect(emp, emp_rows)
    ax.scatter(x, y, s=40, color=EMP_COLOR, alpha=0.55, linewidths=0, zorder=2)
    x, y = collect(lfr, lfr_rows)
    ax.scatter(x, y, s=40, color=LFR_COLOR, alpha=0.55, linewidths=0, zorder=3)

    ax.set_xscale("log")
    ax.set_yscale("log")
    ax.set_title(name, fontsize=16.5)
    ax.grid(True, which="major", ls="--", lw=0.7, color="#b4b4b4")
    ax.set_axisbelow(True)
    ax.spines["top"].set_visible(False)
    ax.spines["right"].set_visible(False)
    ax.tick_params(labelsize=10)

    r, c = divmod(i, 2)
    if r < 2:
        ax.tick_params(axis="x", labelbottom=False)
    if c == 1:
        ax.tick_params(axis="y", labelleft=False)

axes[0].xaxis.set_major_locator(LogLocator(base=10, numticks=12))
axes[0].yaxis.set_major_locator(LogLocator(base=10, numticks=12))
axes[0].xaxis.set_minor_locator(LogLocator(base=10, subs=np.arange(2, 10), numticks=12))
axes[0].yaxis.set_minor_locator(LogLocator(base=10, subs=np.arange(2, 10), numticks=12))
axes[0].xaxis.set_minor_formatter(NullFormatter())
axes[0].yaxis.set_minor_formatter(NullFormatter())

fig.text(0.021, 1 - 858 / 1464, "Count", rotation=90, fontsize=17, ha="center", va="center")
fig.text(0.5215, 1 - 1448 / 1464, "Degree", fontsize=17, ha="center", va="center")

handles = [
    Line2D([], [], ls="", marker="o", markersize=7, color=EMP_COLOR, label="Empirical"),
    Line2D([], [], ls="", marker="o", markersize=7, color=LFR_COLOR, label="LFR"),
]
fig.legend(handles=handles, loc="upper center", bbox_to_anchor=(0.5526, 1.006), ncol=2,
           fontsize=17, frameon=True)

fig.savefig("out.png", dpi=100)
